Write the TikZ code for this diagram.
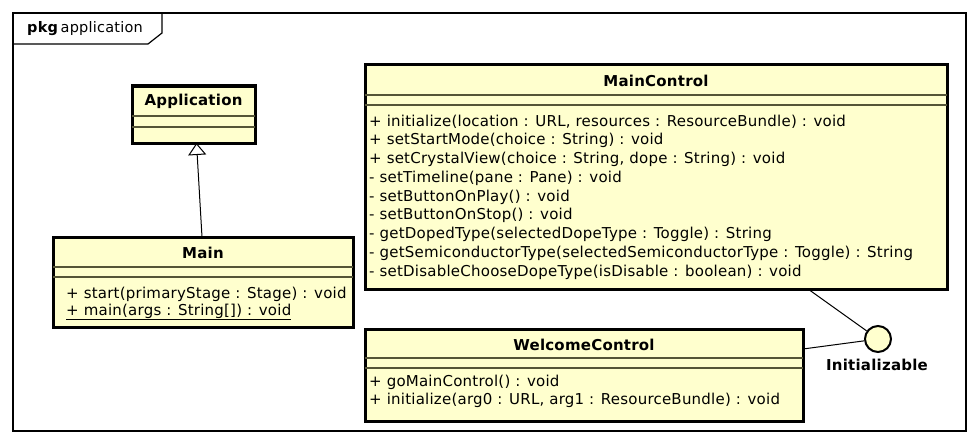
\documentclass[tikz,border=0pt]{standalone}
\usepackage{fontspec}
\setmainfont{DejaVu Sans}[LetterSpace=1.5]
\usetikzlibrary{arrows.meta}
\definecolor{umlfill}{RGB}{255,255,206}
\definecolor{sepcol}{RGB}{85,85,55}
\tikzset{
  classbox/.style={draw=black, line width=3pt, fill=umlfill, inner sep=0pt, outer sep=0pt, anchor=north west},
  sepline/.style={draw=sepcol, line width=1.3pt},
  ctitle/.style={font=\fontsize{15}{18}\selectfont\bfseries, inner sep=0pt},
  meth/.style={font=\fontsize{15}{18}\selectfont, inner sep=0pt, anchor=west},
  conn/.style={draw=black, line width=1pt},
}
\begin{document}
\begin{tikzpicture}[x=1pt,y=-1pt]
\useasboundingbox (0,0) rectangle (980,444);
% package frame
\node[draw=black, line width=1.2pt, minimum width=953pt, minimum height=418pt, inner sep=0pt, outer sep=0pt, anchor=north west] (frame) at (13,13) {};
\coordinate (tabA) at (13,44);
\coordinate (tabB) at (148,44);
\coordinate (tabC) at (162,33);
\coordinate (tabD) at (162,13);
\draw[line width=1.2pt] (tabA) -- (tabB) -- (tabC) -- (tabD);
\node[font=\fontsize{14.5}{17}\selectfont, anchor=west, inner sep=0pt] (hdr) at (27,29) {\textbf{pkg}\,application};

% Application
\node[classbox, minimum width=123pt, minimum height=57pt] (app) at (132,86) {};
\draw[sepline] ([yshift=-30pt]app.north west) -- ([yshift=-30pt]app.north east);
\draw[sepline] ([yshift=-41pt]app.north west) -- ([yshift=-41pt]app.north east);
\node[ctitle] (appt) at (193.5,101.5) {Application};

% Main
\node[classbox, minimum width=300pt, minimum height=90pt] (main) at (53,237) {};
\draw[sepline] ([yshift=-30pt]main.north west) -- ([yshift=-30pt]main.north east);
\draw[sepline] ([yshift=-40pt]main.north west) -- ([yshift=-40pt]main.north east);
\node[ctitle] (maint) at (203,252.5) {Main};
\node[meth] (mm1) at (66,294) {+ start(primaryStage : Stage) : void};
\node[meth] (mm2) at (66,312) {\underline{+ main(args : String[]) : void}};

% MainControl
\node[classbox, minimum width=582pt, minimum height=224pt] (mc) at (365,65) {};
\draw[sepline] ([yshift=-30pt]mc.north west) -- ([yshift=-30pt]mc.north east);
\draw[sepline] ([yshift=-40pt]mc.north west) -- ([yshift=-40pt]mc.north east);
\node[ctitle] (mct) at (656,80.5) {MainControl};
\node[meth] (c1) at (369,122) {+ initialize(location : URL, resources : ResourceBundle) : void};
\node[meth] (c2) at (369,140.75) {+ setStartMode(choice : String) : void};
\node[meth] (c3) at (369,159.5) {+ setCrystalView(choice : String, dope : String) : void};
\node[meth] (c4) at (369,178.25) {- setTimeline(pane : Pane) : void};
\node[meth] (c5) at (369,197) {- setButtonOnPlay() : void};
\node[meth] (c6) at (369,215.75) {- setButtonOnStop() : void};
\node[meth] (c7) at (369,234.5) {- getDopedType(selectedDopeType : Toggle) : String};
\node[meth] (c8) at (369,253.25) {- getSemiconductorType(selectedSemiconductorType : Toggle) : String};
\node[meth] (c9) at (369,272) {- setDisableChooseDopeType(isDisable : boolean) : void};

% WelcomeControl
\node[classbox, minimum width=438pt, minimum height=92pt] (wc) at (365,329) {};
\draw[sepline] ([yshift=-29pt]wc.north west) -- ([yshift=-29pt]wc.north east);
\draw[sepline] ([yshift=-39pt]wc.north west) -- ([yshift=-39pt]wc.north east);
\node[ctitle] (wct) at (584,344.5) {WelcomeControl};
\node[meth] (w1) at (369,382) {+ goMainControl() : void};
\node[meth] (w2) at (369,400) {+ initialize(arg0 : URL, arg1 : ResourceBundle) : void};

% Interface
\node[circle, draw=black, line width=2pt, fill=umlfill, minimum size=26pt, inner sep=0pt] (init) at (878,339) {};
\node[ctitle] (initl) at (877,365) {Initializable};

% connectors
\draw[conn, -{Triangle[open, length=12pt, width=18pt, fill=white, line width=1pt]}] ([xshift=-1pt]main.north) -- ([xshift=3pt]app.south);
\coordinate (mcp) at (808,289);
\draw[conn] (mcp) -- (init);
\draw[conn] ([yshift=26pt]wc.east) -- (init);
\end{tikzpicture}
\end{document}
